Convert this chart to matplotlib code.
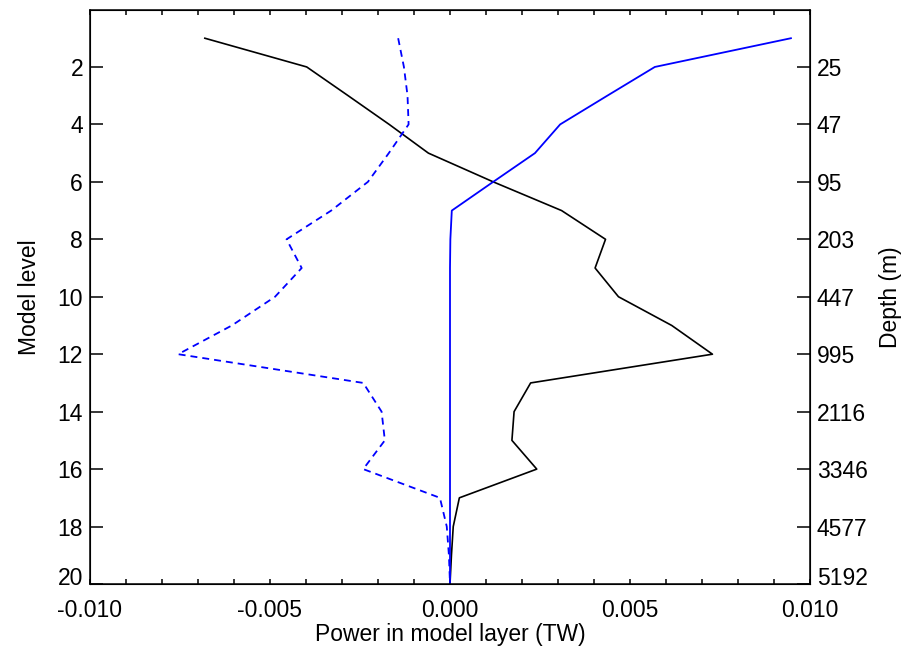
import matplotlib
matplotlib.use("Agg")
import matplotlib.pyplot as plt
import matplotlib.transforms as mtransforms
from matplotlib.ticker import MultipleLocator

plt.rcParams["font.family"] = ["Liberation Sans", "DejaVu Sans"]
plt.rcParams["lines.scale_dashes"] = False

# Model levels (1 = surface)
levels = list(range(1, 21))

# Power in model layer (TW) per level
power_black = [-0.00681, -0.00398, -0.00283, -0.00169, -0.00060, 0.00120, 0.00310,
               0.00432, 0.00403, 0.00468, 0.00616, 0.00729, 0.00224, 0.00178,
               0.00172, 0.00241, 0.00026, 0.00009, 0.00004, 0.0]
power_blue = [0.00947, 0.00569, 0.00437, 0.00306, 0.00236, 0.00120, 0.00005,
              0.00001, 0.0, 0.0, 0.0, 0.0, 0.0, 0.0, 0.0, 0.0, 0.0, 0.0, 0.0, 0.0]
power_blue_dash = [-0.00144, -0.00128, -0.00118, -0.00115, -0.00170, -0.00228, -0.00330,
                   -0.00454, -0.00412, -0.00486, -0.00606, -0.00755, -0.00241, -0.00190,
                   -0.00181, -0.00241, -0.00028, -0.00009, -0.00003, 0.0]

# Right axis: depth at even model levels
depth_levels = [2, 4, 6, 8, 10, 12, 14, 16, 18, 20]
depth_labels = ["25", "47", "95", "203", "447", "995", "2116", "3346", "4577", "5192"]

W, H = 914, 651
fig = plt.figure(figsize=(W / 100, H / 100), dpi=100)
ax = fig.add_axes([90 / W, (H - 584) / H, 720 / W, (584 - 9.5) / H])

ax.plot(power_black, levels, color="black", linewidth=1.2)
ax.plot(power_blue, levels, color="blue", linewidth=1.3)
ax.plot(power_blue_dash, levels, color="blue", linewidth=1.3, linestyle=(0, (5.0, 3.6)))

fs = 16.5
ax.set_xlim(-0.010, 0.010)
ax.set_ylim(20, 0)
ax.set_xticks([-0.010, -0.005, 0.0, 0.005, 0.010])
ax.set_xticklabels(["-0.010", "-0.005", "0.000", "0.005", "0.010"])
ax.xaxis.set_minor_locator(MultipleLocator(0.001))
ax.set_yticks(depth_levels)
ax.set_yticklabels([str(v) for v in depth_levels])

ax.tick_params(axis="x", which="both", direction="in", top=True, bottom=True,
               length=3.6, width=1.1, labelsize=fs, pad=10.5)
ax.tick_params(axis="y", which="major", direction="in", left=True, right=False,
               length=9.4, width=1.1, labelsize=fs, pad=5)
for s in ax.spines.values():
    s.set_linewidth(1.1)

ax.set_xlabel("Power in model layer (TW)", fontsize=fs, labelpad=1)
ax.set_ylabel("Model level", fontsize=fs, labelpad=12)

ax2 = ax.twinx()
ax2.set_ylim(20, 0)
ax2.set_yticks(depth_levels)
ax2.set_yticklabels(depth_labels)
ax2.tick_params(axis="y", which="major", direction="in", length=9.4, width=1.1,
                labelsize=fs, pad=5)
ax2.set_ylabel("Depth (m)", fontsize=fs, labelpad=8)

# bottom labels on the y axes sit a bit above the corner, as in the original
shift = mtransforms.ScaledTranslation(0, 6 / 72, fig.dpi_scale_trans)
for a in (ax, ax2):
    lbl = a.get_yticklabels()[-1]
    lbl.set_transform(lbl.get_transform() + shift)

fig.savefig("out.png", dpi=100)
